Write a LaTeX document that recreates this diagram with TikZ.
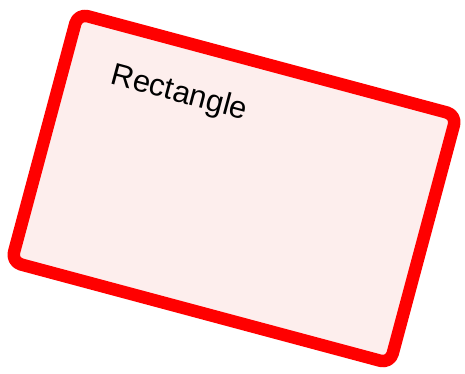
\documentclass[tikz,border=0pt]{standalone}
\usepackage{fontspec}
\setmainfont{Liberation Sans}
\definecolor{boxfill}{RGB}{253,238,237}
\definecolor{boxred}{RGB}{255,0,0}
\tikzset{
  rectbox/.style={draw=boxred, fill=boxfill, line width=12.5pt, rounded corners=10pt, line join=round},
  boxlabel/.style={font=\fontsize{31}{36}\selectfont, text=black, inner sep=0pt}
}
\begin{document}
\begin{tikzpicture}[x=1pt,y=-1pt]
\useasboundingbox (0,0) rectangle (465,374);
\node[rectbox, minimum width=392pt, minimum height=257pt, rotate=-15, inner sep=0pt] (box) at (234,188.5) {};
\node[boxlabel, rotate=-15] (lbl) at (179,94) {Rectangle};
\end{tikzpicture}
\end{document}
